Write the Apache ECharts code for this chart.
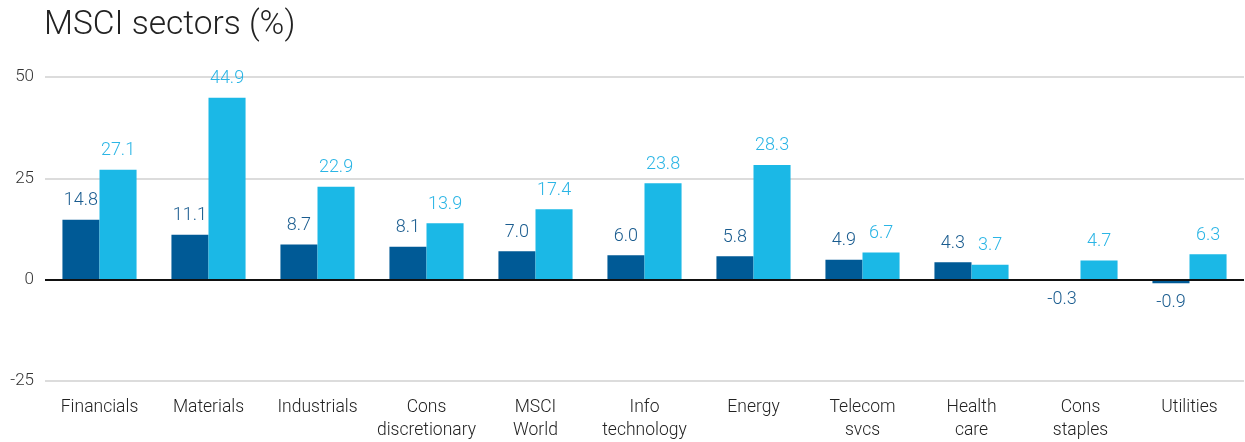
<!DOCTYPE html>
<html>
<head>
<meta charset="utf-8">
<script src="https://cdn.jsdelivr.net/npm/echarts@6/dist/echarts.min.js"></script>
<style>
html,body{margin:0;padding:0;background:#fff;}
#chart{width:1245px;height:442px;}
</style>
</head>
<body>
<div id="chart"></div>
<script>
const categories = ['Financials','Materials','Industrials','Cons\ndiscretionary','MSCI\nWorld','Info\ntechnology','Energy','Telecom\nsvcs','Health\ncare','Cons\nstaples','Utilities'];
const seriesDark = [14.8, 11.1, 8.7, 8.1, 7.0, 6.0, 5.8, 4.9, 4.3, -0.3, -0.9];
const seriesLight = [27.1, 44.9, 22.9, 13.9, 17.4, 23.8, 28.3, 6.7, 3.7, 4.7, 6.3];
const yTicks = [-25, 0, 25, 50];

const FONT = 'Roboto';
function mk(vals){
  return vals.map(v => ({value: v, label: {position: v < 0 ? 'bottom' : 'top'}}));
}
const chart = echarts.init(document.getElementById('chart'));
chart.setOption({
  animation: false,
  title: {
    text: 'MSCI sectors (%)', left: 39, top: 4,
    textStyle: {fontFamily: FONT, fontWeight: 300, fontSize: 33.5, color: '#222'}
  },
  grid: {left: 45, right: 1, top: 77, bottom: 56},
  xAxis: {
    type: 'category', data: categories,
    axisLine: {show: false}, axisTick: {show: false},
    axisLabel: {fontFamily: FONT, fontWeight: 300, fontSize: 17.5, color: '#222', margin: 15, lineHeight: 23, interval: 0}
  },
  yAxis: {
    type: 'value', min: yTicks[0], max: yTicks[yTicks.length-1], interval: 25,
    axisLine: {show: false}, axisTick: {show: false},
    axisLabel: {fontFamily: FONT, fontWeight: 300, fontSize: 17, color: '#333', margin: 11},
    splitLine: {lineStyle: {color: '#d0d0d0', width: 1.5}}
  },
  series: [
    {
      type: 'bar', data: mk(seriesDark), barGap: 0, barCategoryGap: '32%',
      itemStyle: {color: '#005a96'},
      label: {show: true, distance: 10, formatter: p => p.value.toFixed(1), fontFamily: FONT, fontWeight: 300, fontSize: 18, color: '#1a5c8f'},
      markLine: {
        silent: true, symbol: 'none', label: {show: false},
        lineStyle: {color: '#111', width: 2, type: 'solid'},
        data: [{yAxis: 0}]
      }
    },
    {
      type: 'bar', data: mk(seriesLight), barGap: 0, barCategoryGap: '32%',
      itemStyle: {color: '#1bb8e6'},
      label: {show: true, distance: 10, formatter: p => p.value.toFixed(1), fontFamily: FONT, fontWeight: 300, fontSize: 18, color: '#2bb5e5'}
    }
  ]
});
</script>
</body>
</html>
